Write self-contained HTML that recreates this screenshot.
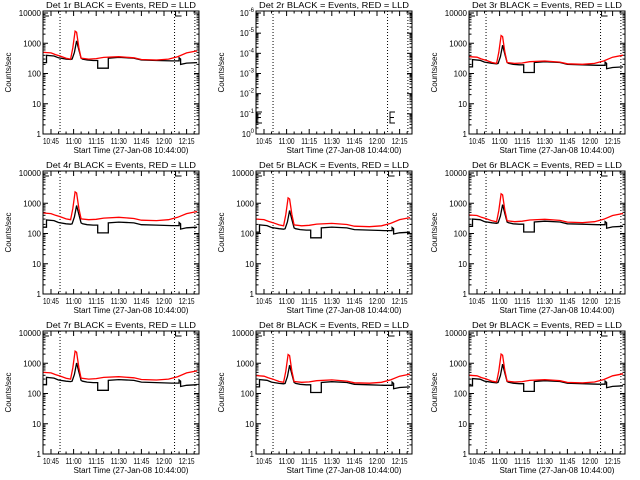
<!DOCTYPE html>
<html><head><meta charset="utf-8"><style>
html,body{margin:0;padding:0;background:#fff}
svg{display:block}
text{font-family:"Liberation Sans",sans-serif;font-size:8px;fill:#000}
</style></head><body>
<svg id="c" width="640" height="480" viewBox="0 0 640 480"></svg>
<script>
const panelNames = ["1r","2r","3r","4r","5r","6r","7r","8r","9r"];
const redScale   = [1.0, 0, 0.72, 0.95, 0.6, 0.82, 1.0, 0.78, 0.8];
const blackScale = [1.0, 0, 0.72, 0.7, 0.48, 0.75, 0.85, 0.72, 0.78];
const xTickLabels = ["10:45","11:00","11:15","11:30","11:45","12:00","12:15"];
const yTickLabels = ["1","10","100","1000","10000"];
const yTickLabels2 = ["0","-1","-2","-3","-4","-5","-6"];
const blackTimes = [-5,-3,-3,2,5,10,13,14,15.5,17,18.5,20,21,24,28,31,31,38,38,45,55,60,70,80,85,85,86,86,90,97];
const blackVals  = [230,230,400,380,330,300,290,300,500,1200,600,320,300,280,270,270,150,150,320,340,320,280,270,260,260,330,300,200,220,230];
const redTimes = [-5,0,3,6,10,13,14.5,16,17,18.5,20,25,30,35,45,55,60,70,78,84,90,97];
const redVals  = [500,480,420,380,320,300,700,2500,2300,700,320,300,310,340,360,330,290,280,300,360,480,560];
const dottedTimes = [6,82,95.5];

const NS="http://www.w3.org/2000/svg";
const svg=document.getElementById('c');
function mk(tag,attrs,parent){const e=document.createElementNS(NS,tag);for(const k in attrs)e.setAttribute(k,attrs[k]);(parent||svg).appendChild(e);return e;}
const W=156,H=123;
for(let p=0;p<9;p++){
  const col=p%3,row=Math.floor(p/3);
  const L=43+col*213,T=11+row*160,B=T+H,R=L+W;
  const g=mk('g',{});
  
  
  const xs=t=>L+8+t*22.6/15;
  const ys=v=>B-Math.log10(v)*(H-2)/4;
  const box=mk('rect',{x:L,y:T,width:W,height:H,fill:'none',stroke:'#000','stroke-width':1},g);
  
  
  const ti=mk('text',{x:L+W/2,y:T-3,'text-anchor':'middle',textLength:150,lengthAdjust:'spacingAndGlyphs','font-size':9},g);
  ti.textContent='Det '+panelNames[p]+' BLACK = Events, RED = LLD';
  
  
  const yt=mk('text',{transform:`translate(${L-32},${T+H/2}) rotate(-90)`,'text-anchor':'middle','font-size':'8'},g);
  yt.textContent='Counts/sec';
  
  
  const xt=mk('text',{x:L+W/2+10,y:B+19,'text-anchor':'middle',textLength:115,lengthAdjust:'spacingAndGlyphs'},g);
  xt.textContent='Start Time (27-Jan-08 10:44:00)';
  
  
  xTickLabels.forEach((s,i)=>{
    const x=xs(i*15);
    mk('line',{x1:x,y1:B,x2:x,y2:B-5,stroke:'#000'},g);
    mk('line',{x1:x,y1:T,x2:x,y2:T+5,stroke:'#000'},g);
    for(let m=1;m<3;m++){const xm=xs(i*15+m*5);if(xm<R){mk('line',{x1:xm,y1:B,x2:xm,y2:B-2.5,stroke:'#000'},g);mk('line',{x1:xm,y1:T,x2:xm,y2:T+2.5,stroke:'#000'},g);}}
    const tx=mk('text',{x:x-8,y:B+10,textLength:16,lengthAdjust:'spacingAndGlyphs'},g);
    tx.textContent=s;
    
    
  });
  dottedTimes.forEach(t=>{
    const dl=mk('line',{x1:xs(t),y1:T,x2:xs(t),y2:B,stroke:'#000','stroke-dasharray':'1,2'},g);
    
    
  });
  if(p===1){
    const step=(H-2)/6;
    yTickLabels2.forEach((s,i)=>{
      const y=B-i*step;
      mk('line',{x1:L,y1:y,x2:L+5,y2:y,stroke:'#000'},g);
      mk('line',{x1:R,y1:y,x2:R-5,y2:y,stroke:'#000'},g);
      if(i<6)for(let k=2;k<10;k++){const ym=y-Math.log10(k)*step;mk('line',{x1:L,y1:ym,x2:L+2.5,y2:ym,stroke:'#000'},g);mk('line',{x1:R,y1:ym,x2:R-2.5,y2:ym,stroke:'#000'},g);}
      const tx=mk('text',{x:L-2,y:y+3,'text-anchor':'end'},g);
      tx.innerHTML='10<tspan dy="-4" font-size="6">'+s+'</tspan>';
      
      
    });
    [L+1,L+134].forEach(x=>{
      mk('path',{d:`M${x+5},${B-22}H${x}V${B-11}H${x+5}M${x},${B-16.5}H${x+4}`,fill:'none',stroke:'#000'},g);
    });
    continue;
  }
  yTickLabels.forEach((s,i)=>{
    const v=Math.pow(10,i),y=ys(v);
    mk('line',{x1:L,y1:y,x2:L+5,y2:y,stroke:'#000'},g);
    mk('line',{x1:R,y1:y,x2:R-5,y2:y,stroke:'#000'},g);
    if(i<4)for(let k=2;k<10;k++){const ym=ys(v*k);mk('line',{x1:L,y1:ym,x2:L+2.5,y2:ym,stroke:'#000'},g);mk('line',{x1:R,y1:ym,x2:R-2.5,y2:ym,stroke:'#000'},g);}
    const tx=mk('text',{x:L-2,y:y+3,'text-anchor':'end'},g);
    tx.textContent=s;
    
    
  });
  mk('path',{d:`M${L},${T}V${T+5}H${L+6}M${xs(82)+1},${T}V${T+5}H${xs(82)+7}`,fill:'none',stroke:'#000'},g);
  let pts=blackTimes.map((t,i)=>`${Math.max(L,xs(t)).toFixed(1)},${ys(blackVals[i]*blackScale[p]).toFixed(1)}`).join(' ');
  const bl=mk('polyline',{points:pts,fill:'none',stroke:'#000','stroke-width':1.3},g);
  
  
  pts=redTimes.map((t,i)=>`${Math.max(L,xs(t)).toFixed(1)},${ys(redVals[i]*redScale[p]).toFixed(1)}`).join(' ');
  const rl=mk('polyline',{points:pts,fill:'none',stroke:'#f00','stroke-width':1.3},g);
  
  
}
</script>
</body></html>
